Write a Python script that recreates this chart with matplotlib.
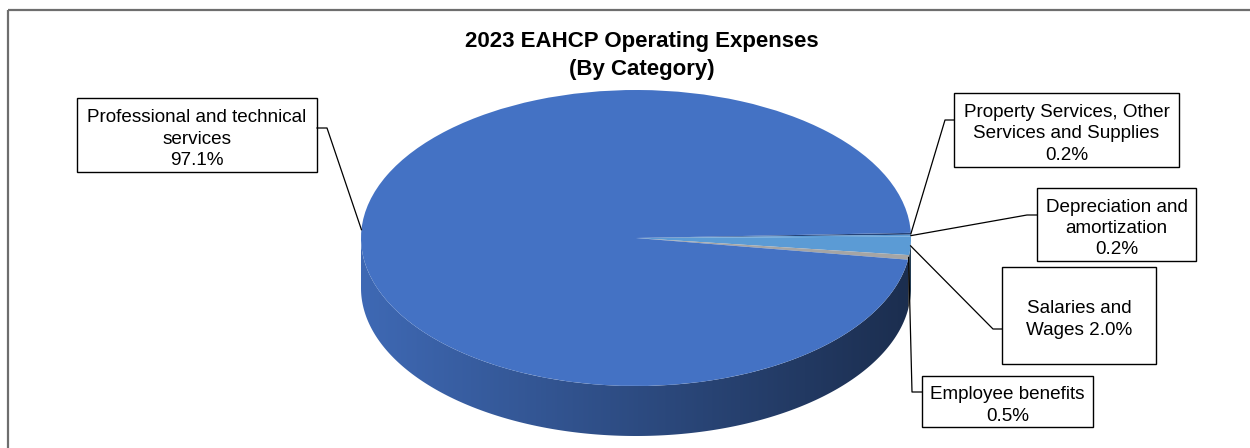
import numpy as np
import matplotlib
matplotlib.use("Agg")
import matplotlib.pyplot as plt
from matplotlib.patches import Rectangle, Polygon
from matplotlib.colors import to_rgb

plt.rcParams['font.family'] = ['Liberation Sans', 'DejaVu Sans']

# ---- data ----
title_lines = ["2023 EAHCP Operating Expenses", "(By Category)"]
categories = ["Property Services, Other Services and Supplies",
              "Depreciation and amortization",
              "Salaries and Wages",
              "Employee benefits",
              "Professional and technical services"]
shares = [0.2, 0.2, 2.0, 0.5, 97.1]
label_texts = ["Property Services, Other\nServices and Supplies\n{:.1f}%",
               "Depreciation and\namortization\n{:.1f}%",
               "Salaries and\nWages {:.1f}%",
               "Employee benefits\n{:.1f}%",
               "Professional and technical\nservices\n{:.1f}%"]
colors = ['#264478', '#5B9BD5', '#5B9BD5', '#A5A5A5', '#4472C4']

# ---- layout (pixels) ----
W, H = 1250, 448
fig = plt.figure(figsize=(W / 100, H / 100), dpi=100)
fig.patch.set_facecolor('white')

rx_l, rx_r = 361, 911          # pie left/right
top_y, ell_bot, side_bot = 90, 386, 436
ry = (ell_bot - top_y) / 2
d = (side_bot - ell_bot) / ry

ax_p = fig.add_axes([rx_l / W, (H - side_bot) / H, (rx_r - rx_l) / W, (side_bot - top_y) / H])
wedges, _ = ax_p.pie(shares, colors=colors, startangle=2, counterclock=False,
                     radius=1, center=(0, 0), wedgeprops=dict(linewidth=0, antialiased=True))
for w in wedges:
    w.set_zorder(3)


def visible_parts(t1, t2):
    parts = []
    for k in (-2, -1, 0, 1):
        lo, hi = 180 + 360 * k, 360 + 360 * k
        a, b = max(t1, lo), min(t2, hi)
        if b > a:
            parts.append((a, b))
    return parts


xs = np.linspace(-1, 1, 600)
fac = 0.92 - 0.52 * (xs + 1) / 2
for w, c in zip(wedges, colors):
    t1, t2 = min(w.theta1, w.theta2), max(w.theta1, w.theta2)
    base = np.array(to_rgb(c))
    for a, b in visible_parts(t1, t2):
        t = np.radians(np.linspace(a, b, 300))
        top = np.column_stack([np.cos(t), np.sin(t)])
        bot = np.column_stack([np.cos(t), np.sin(t) - d])
        verts = np.vstack([top, bot[::-1]])
        poly = Polygon(verts, closed=True, facecolor='none', edgecolor='none',
                       transform=ax_p.transData)
        ax_p.add_patch(poly)
        img = np.clip(base[None, None, :] * fac[None, :, None], 0, 1)
        img = np.repeat(img, 2, axis=0)
        im = ax_p.imshow(img, extent=[-1, 1, -1 - d, 0], aspect='auto',
                         interpolation='bilinear', zorder=1)
        im.set_clip_path(poly)

ax_p.set_aspect('auto')
ax_p.set_xlim(-1, 1)
ax_p.set_ylim(-1 - d, 1)
ax_p.axis('off')

# ---- overlay axes in pixel coordinates ----
ax_o = fig.add_axes([0, 0, 1, 1], zorder=5)
ax_o.set_xlim(0, W)
ax_o.set_ylim(H, 0)
ax_o.axis('off')

# chart border
ax_o.plot([8, 8], [H, 10], color='#6E6E6E', lw=1.6, solid_capstyle='butt')
ax_o.plot([8, W], [10, 10], color='#6E6E6E', lw=1.6, solid_capstyle='butt')

# title
ax_o.text(642, 47.5, title_lines[0], ha='center', va='baseline', fontsize=16,
          fontweight='bold', color='black')
ax_o.text(642, 75, title_lines[1], ha='center', va='baseline', fontsize=16,
          fontweight='bold', color='black')

# label boxes: (x0, y0, x1, y1), elbow point, box attach point
boxes = [
    ((954, 93, 1179, 167), (945, 120), (954, 120)),
    ((1037, 188, 1196, 261), (1027, 215), (1037, 215)),
    ((1002, 267, 1156, 364), (993, 329), (1002, 329)),
    ((922, 376, 1093, 427), (912, 392), (922, 392)),
    ((77, 98, 317, 172), (327, 128), (317, 128)),
]

inv = ax_o.transData.inverted()
for w, share, txt, (bx, elbow, attach) in zip(wedges, shares, label_texts, boxes):
    x0, y0, x1, y1 = bx
    ax_o.add_patch(Rectangle((x0, y0), x1 - x0, y1 - y0, facecolor='white',
                             edgecolor='black', lw=1.0))
    ax_o.text((x0 + x1) / 2, (y0 + y1) / 2 + 4, txt.format(share), ha='center',
              va='center', fontsize=13.6, linespacing=1.32, color='black')
    mid = np.radians((w.theta1 + w.theta2) / 2)
    px = inv.transform(ax_p.transData.transform((np.cos(mid), np.sin(mid))))
    ax_o.plot([px[0], elbow[0], attach[0]], [px[1], elbow[1], attach[1]],
              color='black', lw=0.9)

fig.savefig('out.png', dpi=100, facecolor='white')
